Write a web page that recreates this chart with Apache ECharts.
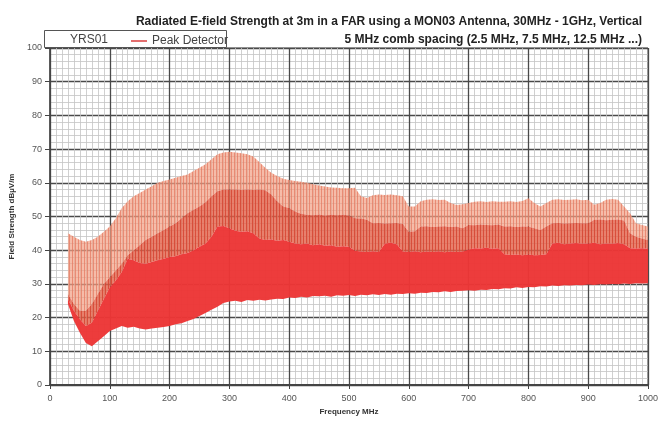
<!DOCTYPE html>
<html>
<head>
<meta charset="utf-8">
<script src="https://cdn.jsdelivr.net/npm/echarts@6/dist/echarts.min.js"></script>
<style>
html,body{margin:0;padding:0;background:#fff;}
#chart{width:661px;height:428px;}
</style>
</head>
<body>
<div id="chart"></div>
<script>
// Frequency (MHz)
var freq = [30,40,50,60,70,80,90,100,110,120,130,140,150,160,170,180,190,200,210,220,230,240,250,260,270,280,290,300,310,320,330,340,350,360,370,380,390,400,410,420,430,440,450,460,470,480,490,500,510,520,530,540,550,560,570,580,590,600,610,620,630,640,650,660,670,680,690,700,710,720,730,740,750,760,770,780,790,800,810,820,830,840,850,860,870,880,890,900,910,920,930,940,950,960,970,980,990,1000];
// Lower edge of the dense red band (dBµV/m)
var lowerEdge = [24,19,15.5,12.5,11.5,13,14.5,16,16.8,17.5,17,17.3,16.8,16.5,16.8,17,17.2,17.5,18,18.3,19,19.6,20.5,21.4,22.3,23.2,24.3,24.8,25,24.6,25.2,25,25.3,25.1,25.4,25.6,25.5,26,25.8,26.2,26,26.4,26.3,26.5,26.2,26.6,26.5,26.7,26.4,26.8,26.6,26.9,26.7,27,26.8,27.1,27,27.2,27.1,27.4,27.3,27.6,27.5,27.8,27.6,27.9,28,28.1,28,28.3,28.2,28.5,28.4,28.7,28.6,29,28.8,29.1,29,29.3,29.2,29.5,29.4,29.6,29.5,29.7,29.6,29.8,29.7,29.9,29.8,30,29.9,30.1,30,30.2,30.1,30.2];
// Upper edge of the dense red band
var redTop = [25.5,22,19.5,17.5,18.5,22,25.5,29,31,33.5,37.5,37,36.2,36,36.5,37,37.5,38,38.2,38.8,39.2,40,41,42,44,47,47.2,46.5,45.8,45.5,45.6,45,43.5,43,43.2,42.8,43,42.5,42,41.8,42,41.5,41.8,41.3,41.5,41,41.2,41,39.8,39.6,39.5,39.7,39.5,42,42.2,41.8,39.6,39.5,39.7,39.4,39.6,39.5,39.7,39.4,39.6,39.5,39.6,40.2,40.6,40.5,40.7,40.4,40.6,38.8,38.6,38.7,38.5,38.7,38.5,38.6,38.8,42,42.2,41.8,42,42.1,41.9,42,42.2,41.8,42,41.9,42.1,41.8,40.6,40.5,40.6,40.4];
// Upper edge of the middle envelope
var midTop = [27,24,22,22,24,27,30,32,34,36,38.5,40,41.5,43,44,45,46,47,48,49.5,51,52,53,54.2,56,57.5,58,58,58,57.9,58,57.9,58,57.8,56.5,54.5,53,52.5,51.5,50.8,50.5,50.4,50.6,50.3,50.5,50.4,50.5,50.3,49.5,49.4,49,48,48.1,47.9,48,48.1,47.8,45.5,45.6,47,47.1,46.9,47,47.1,46.9,47,46.5,47.5,47.4,47.6,47.5,47.4,47.6,47,47.1,46.9,47,47,46.5,46,47,48,48.1,47.9,48,48.1,48,48,49,49.1,48.9,49,49.1,48.8,45,44,43.5,43];
// Peak envelope
var peakTop = [45,44,43,42.5,43,44,45.5,47,49.5,52.5,54.5,56,57,58,59,60,60.5,61,61.5,62,62.5,63.5,64.5,65.5,67,68.5,69,69.2,69,68.8,68.5,67.8,66.2,64.5,63,62,61.2,60.8,60.5,60.3,60,59.6,59.2,58.9,58.6,58.5,58.4,58.4,58.5,56,55.5,56.3,56.5,56.4,56.5,56.3,56,53,53,54.5,55,55.1,54.9,55,54,53.4,53.6,54,54.4,54.5,54.3,54.5,54.4,54.4,54.5,54.3,54.6,55.4,54,53,54,55,55.1,54.9,55,55.1,54.8,55,53.5,54,55,55.2,55,53,51,48,47.5,47];

var xTicks = {min:0, max:1000, interval:100};
var yTicks = {min:0, max:100, interval:10};

function stripes(c1, c2){
  var cv = document.createElement('canvas');
  cv.width = 3; cv.height = 4;
  var ctx = cv.getContext('2d');
  ctx.fillStyle = c1; ctx.fillRect(0,0,3,4);
  ctx.fillStyle = c2; ctx.fillRect(0,0,1,4);
  return {image: cv, repeat:'repeat'};
}

// band polygon between two edges, drawn through the chart's own coordinate system
function band(topArr, botArr){
  return function(params, api){
    var pts = [];
    for (var i = 0; i < freq.length; i++) pts.push(api.coord([freq[i], topArr[i]]));
    for (var j = freq.length - 1; j >= 0; j--) pts.push(api.coord([freq[j], botArr[j]]));
    return {type:'polygon', shape:{points:pts}, style:api.style()};
  };
}

var chart = echarts.init(document.getElementById('chart'), null, {renderer:'canvas'});
var font = '"Liberation Sans", Arial, sans-serif';
var option = {
  animation:false,
  backgroundColor:'#ffffff',
  title:[
    {text:'Radiated E-field Strength at 3m in a FAR using a MON03 Antenna, 30MHz - 1GHz, Vertical',
     right:14, top:11, textStyle:{fontFamily:font, fontSize:12, fontWeight:'bold', color:'#222'}},
    {text:'5 MHz comb spacing (2.5 MHz, 7.5 MHz, 12.5 MHz ...)',
     right:14, top:29, textStyle:{fontFamily:font, fontSize:12, fontWeight:'bold', color:'#222'}}
  ],
  graphic:[
    {type:'rect', z:5, shape:{x:44.5, y:30.5, width:182, height:17}, style:{fill:'#fff', stroke:'#555', lineWidth:1}},
    {type:'text', z:6, x:70, y:34, style:{text:'YRS01', fontFamily:font, fontSize:12, fill:'#444'}}
  ],
  legend:{
    z:10, left:126, top:30, itemWidth:16, itemHeight:2, itemGap:4,
    textStyle:{fontFamily:font, fontSize:12, color:'#444'},
    data:[{name:'Peak Detector', icon:'rect', itemStyle:{color:'#e36a6a'}}]
  },
  grid:{left:49, right:13, top:48, bottom:43, show:true, borderColor:'#555', borderWidth:1},
  xAxis:{
    type:'value', min:xTicks.min, max:xTicks.max, interval:xTicks.interval,
    name:'Frequency MHz', nameLocation:'middle', nameGap:23,
    nameTextStyle:{fontFamily:font, fontSize:8, fontWeight:'bold', color:'#333'},
    axisLine:{show:true, lineStyle:{color:'#444', width:2}},
    axisTick:{show:true, length:4, lineStyle:{color:'#444'}},
    axisLabel:{fontFamily:font, fontSize:9, color:'#555', margin:9, formatter:function(v){return String(v);}},
    splitLine:{show:true, lineStyle:{color:'#4a4a4a', width:1.3}},
    minorTick:{show:true, splitNumber:10, length:0},
    minorSplitLine:{show:true, lineStyle:{color:'#c4c4c4', width:0.8}}
  },
  yAxis:{
    type:'value', min:yTicks.min, max:yTicks.max, interval:yTicks.interval,
    name:'Field Strength dBµV/m', nameLocation:'middle', nameGap:34,
    nameTextStyle:{fontFamily:font, fontSize:8, fontWeight:'bold', color:'#333'},
    axisLine:{show:true, lineStyle:{color:'#444', width:1.5}},
    axisTick:{show:true, length:5, lineStyle:{color:'#444'}},
    axisLabel:{fontFamily:font, fontSize:9, color:'#555', margin:8},
    splitLine:{show:true, lineStyle:{color:'#4a4a4a', width:1.3}},
    minorTick:{show:true, splitNumber:5, length:0},
    minorSplitLine:{show:true, lineStyle:{color:'#c4c4c4', width:0.8}}
  },
  series:[
    {name:'peak', type:'custom', silent:true, renderItem:band(peakTop, midTop), data:[[0,0]],
     itemStyle:{color:stripes('rgba(242,160,132,0.7)','rgba(228,120,96,0.72)')}},
    {name:'mid', type:'custom', silent:true, renderItem:band(midTop, redTop), data:[[0,0]],
     itemStyle:{color:stripes('rgba(226,96,72,0.8)','rgba(214,70,52,0.85)')}},
    {name:'Peak Detector', type:'custom', silent:true, renderItem:band(redTop, lowerEdge), data:[[0,0]],
     itemStyle:{color:'rgb(236,54,54)', opacity:0.97}}
  ]
};
chart.setOption(option);
</script>
</body>
</html>
